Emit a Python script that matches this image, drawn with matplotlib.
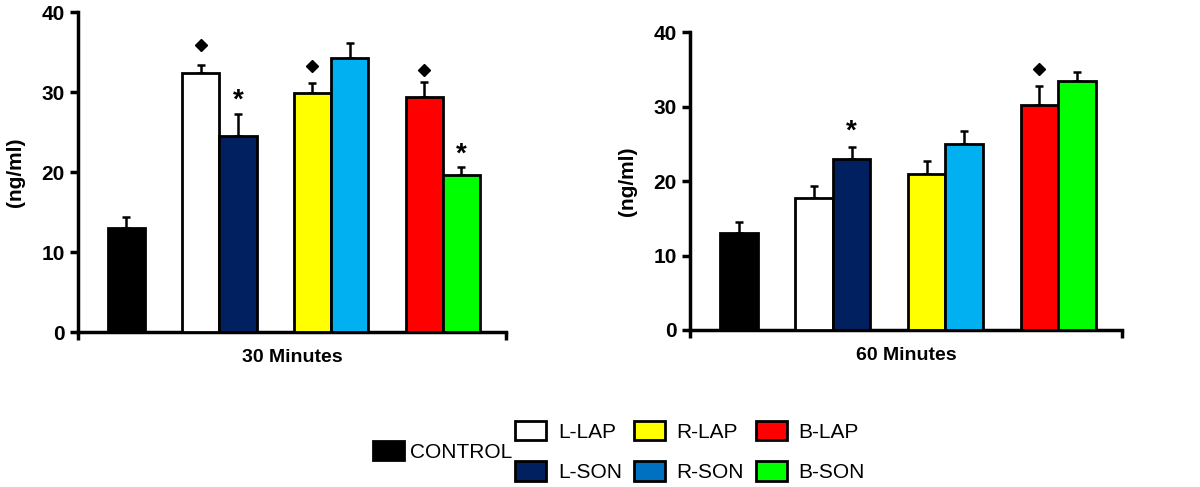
import matplotlib.pyplot as plt
from matplotlib.patches import Patch

plt.rcParams['font.family'] = ['Liberation Sans', 'DejaVu Sans']

# groups and colours
groups = ["CONTROL", "L-LAP", "L-SON", "R-LAP", "R-SON", "B-LAP", "B-SON"]
bar_colors = ["#000000", "#ffffff", "#002060", "#ffff00", "#00b0f0", "#ff0000", "#00ff00"]
legend_colors = ["#000000", "#ffffff", "#002060", "#ffff00", "#0070c0", "#ff0000", "#00ff00"]

# 30 minutes
mean_30 = [13.0, 32.4, 24.5, 29.9, 34.3, 29.4, 19.6]
err_30 = [1.4, 1.0, 2.8, 1.2, 1.9, 1.9, 1.1]
# 60 minutes
mean_60 = [13.0, 17.7, 23.0, 20.9, 25.0, 30.2, 33.4]
err_60 = [1.5, 1.7, 1.6, 1.8, 1.7, 2.6, 1.3]

# significance marks: (bar index, y, symbol)
marks_30 = [(1, 35.9, "diamond"), (2, 28.9, "star"), (3, 33.3, "diamond"),
            (5, 32.8, "diamond"), (6, 22.2, "star")]
marks_60 = [(2, 26.6, "star"), (5, 35.1, "diamond")]

x = [1.3, 3.3, 4.3, 6.3, 7.3, 9.3, 10.3]

fig = plt.figure(figsize=(12, 4.87), dpi=100)
ax1 = fig.add_axes([0.065, 0.318, 0.3567, 0.657])
ax2 = fig.add_axes([0.575, 0.3224, 0.36, 0.6113])


def draw(ax, means, errs, marks, title):
    ax.bar(x, means, width=1.0, color=bar_colors, edgecolor="black", linewidth=2.0, zorder=3)
    ax.errorbar(x, means, yerr=[[0] * len(errs), errs], fmt="none", ecolor="black",
                elinewidth=1.8, capsize=3, capthick=1.8, zorder=2)
    for i, yv, kind in marks:
        if kind == "diamond":
            ax.plot(x[i], yv, marker="D", markersize=6.5, color="black", zorder=4)
        else:
            ax.text(x[i], yv, "*", ha="center", va="center", fontsize=20,
                    fontweight="bold", zorder=4)
    ax.set_xlim(0, 11.5)
    ax.set_ylim(0, 40)
    ax.set_yticks([0, 10, 20, 30, 40])
    ax.set_xticks([0, 11.5])
    ax.set_xticklabels(["", ""])
    for s in ["top", "right"]:
        ax.spines[s].set_visible(False)
    for s in ["left", "bottom"]:
        ax.spines[s].set_linewidth(2.5)
    ax.tick_params(axis="both", width=2.5, length=6, direction="out")
    for lab in ax.get_yticklabels():
        lab.set_fontweight("bold")
        lab.set_fontsize(15)
    ax.set_ylabel("(ng/ml)", fontsize=15, fontweight="bold", labelpad=12)
    ax.set_xlabel(title, fontsize=14, fontweight="bold", labelpad=3)


draw(ax1, mean_30, err_30, marks_30, "30 Minutes")
draw(ax2, mean_60, err_60, marks_60, "60 Minutes")

handles = [Patch(facecolor=c, edgecolor="black", linewidth=2.0) for c in legend_colors]
leg1 = fig.legend([handles[0]], [groups[0]], loc="center", bbox_to_anchor=(0.369, 0.073),
                  frameon=False, fontsize=15, handlelength=1.5, handleheight=1.05,
                  handletextpad=0.3)
leg2 = fig.legend(handles[1:], groups[1:], ncol=3, loc="center", bbox_to_anchor=(0.575, 0.073),
                  frameon=False, fontsize=15, handlelength=1.5, handleheight=1.05,
                  handletextpad=0.55, columnspacing=0.57, labelspacing=0.95)

fig.savefig("out.png", dpi=100)
